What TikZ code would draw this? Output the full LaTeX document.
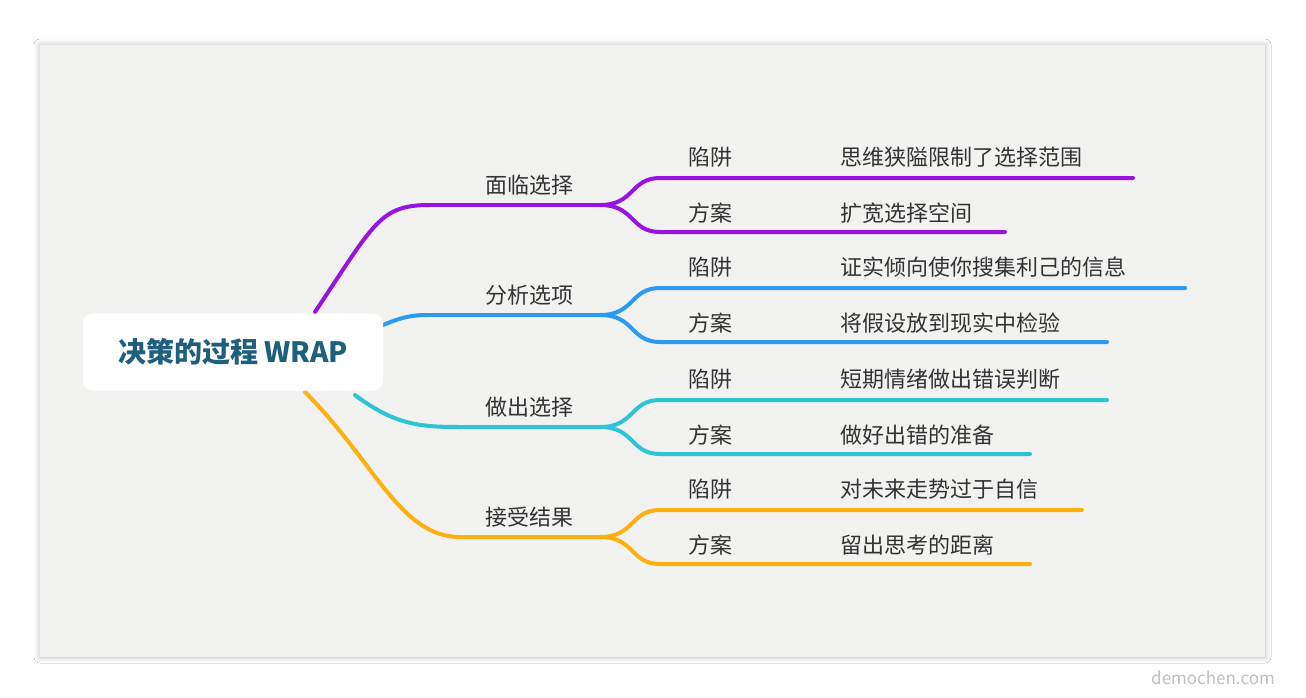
\documentclass[tikz,border=0pt]{standalone}
\usepackage{fontspec}
\setmainfont{Noto Sans CJK SC}
\usetikzlibrary{shadows.blur}
\definecolor{cardbg}{HTML}{F2F3F1}
\definecolor{rootfg}{HTML}{1D5F7C}
\definecolor{cpurple}{HTML}{9A12E0}
\definecolor{cblue}{HTML}{2B9AF3}
\definecolor{cteal}{HTML}{2EC3D5}
\definecolor{corange}{HTML}{FDB010}
\tikzset{
  lbl/.style={font=\fontsize{22}{26}\selectfont, text=black!80, inner sep=0pt},
  branch/.style={line width=4pt, line cap=round},
  rootbox/.style={fill=white, rounded corners=10pt, minimum width=300pt, minimum height=77pt,
      font=\fontsize{28}{32}\selectfont\bfseries, text=rootfg},
}
\begin{document}
\begin{tikzpicture}[x=1pt, y=-1pt]
    \useasboundingbox[fill=white] (0,0) rectangle (1306,698);
    \fill[cardbg, blur shadow={shadow blur steps=10, shadow blur radius=6pt, shadow xshift=0pt, shadow yshift=0pt, shadow opacity=25}] (40,45) rectangle (1265,657);

    % root
    \node[rootbox] (root) at (233,352) {决策的过程 WRAP};
    \coordinate (rp) at (315,312);
    \coordinate (rb) at (383,325);
    \coordinate (rt) at (355,395);
    \coordinate (ro) at (305,392);

    % level 1
    \foreach \nm/\col/\y/\start/\title/\ea/\eb/\ta/\tb in {
      p/cpurple/205/430/面临选择/1133/1005/思维狭隘限制了选择范围/扩宽选择空间,
      b/cblue/315/430/分析选项/1185/1107/证实倾向使你搜集利己的信息/将假设放到现实中检验,
      t/cteal/427/460/做出选择/1107/1030/短期情绪做出错误判断/做好出错的准备,
      o/corange/537/460/接受结果/1082/1030/对未来走势过于自信/留出思考的距离}{
      \coordinate (\nm s) at (\start,\y);
      \coordinate (\nm e) at (600,\y);
      \node[lbl] (\nm t) at (529,\y-20) {\title};
      \draw[branch, \col] (\nm s) -- (\nm e);
      \coordinate (\nm a1) at (660,\y-27);
      \coordinate (\nm a2) at (745,\y-27);
      \coordinate (\nm a3) at (\ea,\y-27);
      \coordinate (\nm b1) at (660,\y+27);
      \coordinate (\nm b2) at (745,\y+27);
      \coordinate (\nm b3) at (\eb,\y+27);
      \draw[branch, \col] (\nm e) .. controls +(35,0) and +(-30,0) .. (\nm a1) -- (\nm a2) -- (\nm a3);
      \draw[branch, \col] (\nm e) .. controls +(35,0) and +(-30,0) .. (\nm b1) -- (\nm b2) -- (\nm b3);
      \node[lbl] (\nm x) at (710,\y-48) {陷阱};
      \node[lbl] (\nm y) at (710,\y+8) {方案};
      \node[lbl, anchor=west] (\nm u) at (840,\y-48) {\ta};
      \node[lbl, anchor=west] (\nm v) at (840,\y+8) {\tb};
    }

    % root connectors
    \draw[branch, cpurple] (rp) .. controls +(60,-90) and +(-50,0) .. (ps);
    \draw[branch, cblue] (rb) .. controls +(20,-8) and +(-20,0) .. (bs);
    \draw[branch, cteal] (rt) .. controls +(40,30) and +(-40,0) .. (ts);
    \draw[branch, corange] (ro) .. controls +(70,70) and +(-60,0) .. (os);
    \node[rootbox] at (root) {决策的过程 WRAP};

    \node[font=\fontsize{17}{20}\selectfont, text=black!25] (mark) at (1213,678) {demochen.com};
\end{tikzpicture}
\end{document}
